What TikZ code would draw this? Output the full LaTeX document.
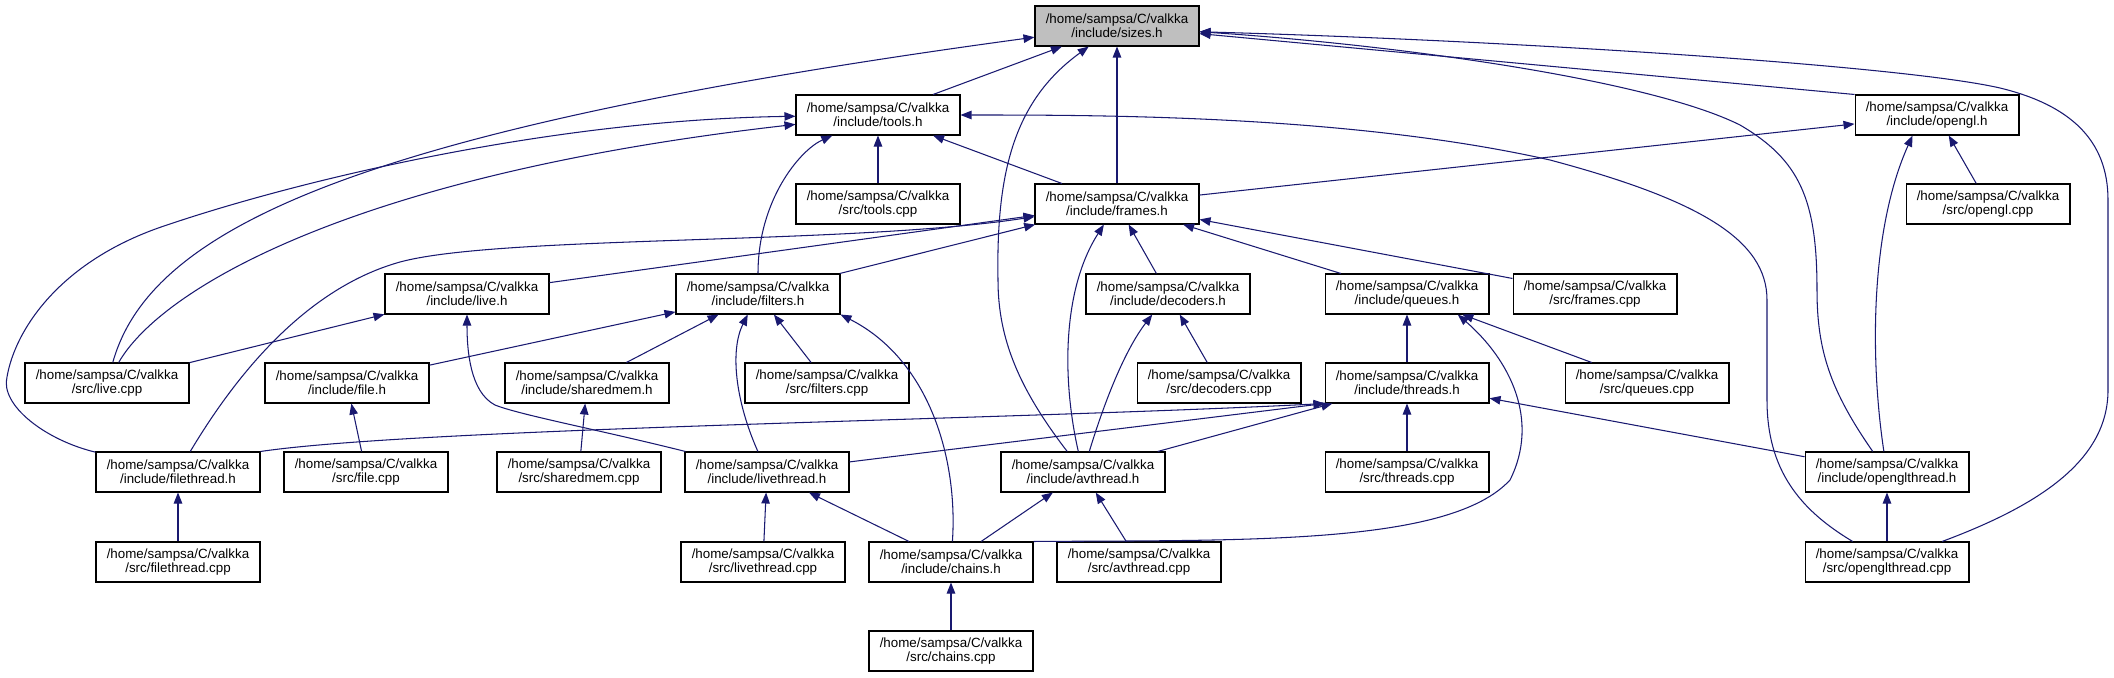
\documentclass[tikz,border=0pt]{standalone}
\usepackage{fontspec}
\setmainfont{Liberation Sans}
\usepackage{tikz}
\usetikzlibrary{arrows.meta,calc}
\definecolor{edgeblue}{HTML}{191970}
\definecolor{rootgray}{HTML}{BFBFBF}

\begin{document}
\begin{tikzpicture}[x=0.02cm, y=-0.02cm,
    srcbox/.style={rectangle, draw=black, line width=0.6pt, minimum width=3.28cm,
                   minimum height=0.8cm, inner sep=0pt, align=center,
                   font=\fontsize{7.6}{8.2}\selectfont},
    dep/.style={draw=edgeblue, line width=0.6pt,
                -{Triangle[length=0.22cm, width=0.17cm]}}]
  \useasboundingbox (0,0) rectangle (2114,677);
  % files, row by row
  \node[srcbox, fill=rootgray] (sizes) at (1117,26) {/home/sampsa/C/valkka\\/include/sizes.h};
  \node[srcbox] (tools) at (878,115) {/home/sampsa/C/valkka\\/include/tools.h};
  \node[srcbox] (opengl) at (1937,115) {/home/sampsa/C/valkka\\/include/opengl.h};
  \node[srcbox] (toolscpp) at (878,204) {/home/sampsa/C/valkka\\/src/tools.cpp};
  \node[srcbox] (frames) at (1117,204) {/home/sampsa/C/valkka\\/include/frames.h};
  \node[srcbox] (openglcpp) at (1988,204) {/home/sampsa/C/valkka\\/src/opengl.cpp};
  \node[srcbox] (live) at (467,294) {/home/sampsa/C/valkka\\/include/live.h};
  \node[srcbox] (filters) at (758,294) {/home/sampsa/C/valkka\\/include/filters.h};
  \node[srcbox] (decoders) at (1168,294) {/home/sampsa/C/valkka\\/include/decoders.h};
  \node[srcbox] (queues) at (1407,294) {/home/sampsa/C/valkka\\/include/queues.h};
  \node[srcbox] (framescpp) at (1595,294) {/home/sampsa/C/valkka\\/src/frames.cpp};
  \node[srcbox] (livecpp) at (107,383) {/home/sampsa/C/valkka\\/src/live.cpp};
  \node[srcbox] (file) at (347,383) {/home/sampsa/C/valkka\\/include/file.h};
  \node[srcbox] (sharedmem) at (587,383) {/home/sampsa/C/valkka\\/include/sharedmem.h};
  \node[srcbox] (filterscpp) at (827,383) {/home/sampsa/C/valkka\\/src/filters.cpp};
  \node[srcbox] (decoderscpp) at (1219,383) {/home/sampsa/C/valkka\\/src/decoders.cpp};
  \node[srcbox] (threads) at (1407,383) {/home/sampsa/C/valkka\\/include/threads.h};
  \node[srcbox] (queuescpp) at (1647,383) {/home/sampsa/C/valkka\\/src/queues.cpp};
  \node[srcbox] (filethread) at (178,472) {/home/sampsa/C/valkka\\/include/filethread.h};
  \node[srcbox] (filecpp) at (366,472) {/home/sampsa/C/valkka\\/src/file.cpp};
  \node[srcbox] (sharedmemcpp) at (579,472) {/home/sampsa/C/valkka\\/src/sharedmem.cpp};
  \node[srcbox] (livethread) at (767,472) {/home/sampsa/C/valkka\\/include/livethread.h};
  \node[srcbox] (avthread) at (1083,472) {/home/sampsa/C/valkka\\/include/avthread.h};
  \node[srcbox] (threadscpp) at (1407,472) {/home/sampsa/C/valkka\\/src/threads.cpp};
  \node[srcbox] (openglthread) at (1887,472) {/home/sampsa/C/valkka\\/include/openglthread.h};
  \node[srcbox] (filethreadcpp) at (178,562) {/home/sampsa/C/valkka\\/src/filethread.cpp};
  \node[srcbox] (livethreadcpp) at (763,562) {/home/sampsa/C/valkka\\/src/livethread.cpp};
  \node[srcbox] (chains) at (951,562) {/home/sampsa/C/valkka\\/include/chains.h};
  \node[srcbox] (avthreadcpp) at (1139,562) {/home/sampsa/C/valkka\\/src/avthread.cpp};
  \node[srcbox] (openglthreadcpp) at (1887,562) {/home/sampsa/C/valkka\\/src/openglthread.cpp};
  \node[srcbox] (chainscpp) at (951,651) {/home/sampsa/C/valkka\\/src/chains.cpp};

  % straight includes
  \draw[dep] (tools) -- (sizes);
  \draw[dep] (frames) -- (sizes);
  \draw[dep] (opengl.north west) -- (sizes);
  \draw[dep] (toolscpp) -- (tools);
  \draw[dep] (frames) -- (tools);
  \draw[dep] (frames) -- (opengl);
  \draw[dep] (openglcpp) -- (opengl);
  \draw[dep] (live) -- (frames);
  \draw[dep] (filters) -- (frames);
  \draw[dep] (decoders) -- (frames);
  \draw[dep] (queues) -- (frames);
  \draw[dep] (framescpp) -- (frames);
  \draw[dep] (livecpp) -- (live);
  \draw[dep] (file) -- (filters);
  \draw[dep] (sharedmem) -- (filters);
  \draw[dep] (filterscpp) -- (filters);
  \draw[dep] (decoderscpp) -- (decoders);
  \draw[dep] (threads) -- (queues);
  \draw[dep] (queuescpp) -- (queues);
  \draw[dep] (threadscpp) -- (threads);
  \draw[dep] (openglthread) -- (threads);
  \draw[dep] (avthread) -- (threads);
  \draw[dep] (livethread) -- (threads.south west);
  \draw[dep] (chains) -- (avthread);
  \draw[dep] (avthreadcpp) -- (avthread);
  \draw[dep] (livethreadcpp) -- (livethread);
  \draw[dep] (chains) -- (livethread);
  \draw[dep] (filethreadcpp) -- (filethread);
  \draw[dep] (filecpp) -- (file);
  \draw[dep] (sharedmemcpp) -- (sharedmem);
  \draw[dep] (openglthreadcpp) -- (openglthread);
  \draw[dep] (chainscpp) -- (chains);

  % curved includes
  \draw[dep] (livecpp) .. controls (150,230) and (350,130) .. (sizes);
  \draw[dep] (livecpp) .. controls (160,290) and (350,175) .. (tools);
  \draw[dep] (filethread) .. controls (45,440) and (0,405) .. (7,377)
    .. controls (15,330) and (60,260) .. (167,225)
    .. controls (300,180) and (550,120) .. (tools);
  \draw[dep] (filethread) .. controls (230,385) and (300,290) .. (400,262)
    .. controls (500,235) and (850,245) .. (frames);
  \draw[dep] (filethread.north east) .. controls (420,428) and (1000,420) .. (threads.south west);
  \draw[dep] (filters) .. controls (758,200) and (800,150) .. (tools);
  \draw[dep] (livethread) .. controls (600,430) and (520,415) .. (495,405)
    .. controls (470,392) and (467,350) .. (live);
  \draw[dep] (livethread) .. controls (735,400) and (730,350) .. (filters);
  \draw[dep] (chains) .. controls (958,460) and (930,360) .. (filters.south east);
  \draw[dep] (avthread) .. controls (1062,380) and (1062,290) .. (frames);
  \draw[dep] (avthread) .. controls (1020,390) and (998,340) .. (998,280)
    .. controls (996,170) and (1015,100) .. (sizes);
  \draw[dep] (avthread) .. controls (1105,400) and (1125,350) .. (decoders);
  \draw[dep] (chains.north east) .. controls (1250,540) and (1450,545) .. (1510,480)
    .. controls (1540,420) and (1510,360) .. (queues.-22);
  \draw[dep] (openglthread) .. controls (1830,390) and (1817,350) .. (1817,290)
    .. controls (1817,200) and (1800,160) .. (1740,125)
    .. controls (1650,80) and (1400,45) .. (sizes.-4);
  \draw[dep] (openglthread) .. controls (1870,360) and (1870,230) .. (opengl.-140);
  \draw[dep] (openglthreadcpp) .. controls (1800,510) and (1767,470) .. (1767,400)
    -- (1767,300) .. controls (1767,240) and (1700,200) .. (1550,160)
    .. controls (1350,115) and (1100,115) .. (tools);
  \draw[dep] (openglthreadcpp) .. controls (2040,505) and (2108,460) .. (2108,390)
    -- (2108,200) .. controls (2108,140) and (2070,105) .. (2000,88)
    .. controls (1900,65) and (1500,40) .. (sizes.-4);
\end{tikzpicture}
\end{document}
